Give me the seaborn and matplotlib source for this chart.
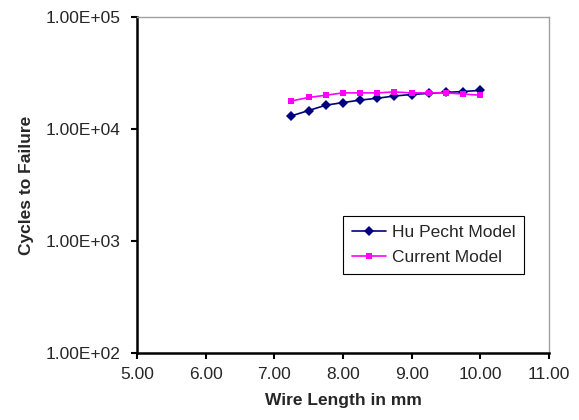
import numpy as np
import pandas as pd
import seaborn as sns
import matplotlib
matplotlib.use("Agg")
import matplotlib.pyplot as plt
from matplotlib.ticker import FuncFormatter, FixedLocator, NullLocator

# --------------------------- DATA ---------------------------
wire_length = [7.25, 7.50, 7.75, 8.00, 8.25, 8.50, 8.75, 9.00, 9.25, 9.50, 9.75, 10.00]
hu_pecht = [13100, 14600, 16300, 17200, 18100, 18800, 19700, 20300, 20800, 21200, 21600, 22100]
current = [17800, 19100, 20000, 21000, 21000, 21000, 21400, 21000, 21000, 21000, 20500, 20000]

series_names = ["Hu Pecht Model", "Current Model"]
x_ticks = [5, 6, 7, 8, 9, 10, 11]
y_ticks = [1e2, 1e3, 1e4, 1e5]

df = pd.DataFrame({
    "Wire Length": wire_length * 2,
    "Cycles": hu_pecht + current,
    "Model": [series_names[0]] * len(wire_length) + [series_names[1]] * len(wire_length),
})

# --------------------------- STYLE ---------------------------
sns.set_style("white")
plt.rcParams["font.family"] = ["Liberation Sans", "DejaVu Sans"]

fig = plt.figure(figsize=(5.79, 4.2), dpi=100)
ax = fig.add_axes([0.2366, 0.160, 0.7114, 0.7995])

palette = {series_names[0]: "#000080", series_names[1]: "#FF00FF"}
sns.lineplot(data=df, x="Wire Length", y="Cycles", hue="Model", style="Model",
             markers={series_names[0]: "D", series_names[1]: "s"}, dashes=False,
             palette=palette, markersize=5, linewidth=1.2, markeredgewidth=0,
             ax=ax)

ax.set_yscale("log")
ax.set_xlim(5, 11)
ax.set_ylim(1e2, 1e5)
ax.xaxis.set_major_locator(FixedLocator(x_ticks))
ax.yaxis.set_major_locator(FixedLocator(y_ticks))
ax.yaxis.set_minor_locator(NullLocator())
ax.xaxis.set_major_formatter(FuncFormatter(lambda v, p: f"{v:.2f}"))
ax.yaxis.set_major_formatter(FuncFormatter(lambda v, p: f"{v:.2E}"))

ax.tick_params(axis="both", which="major", direction="out", length=4, width=1.5,
               color="black", labelsize=12.5, left=True, bottom=True)
ax.tick_params(axis="y", pad=8)
ax.tick_params(axis="x", pad=6)

for side in ["left", "bottom"]:
    ax.spines[side].set_color("black")
    ax.spines[side].set_linewidth(1.8)
for side in ["top", "right"]:
    ax.spines[side].set_color("#a0a0a0")
    ax.spines[side].set_linewidth(1.0)

ax.set_xlabel("Wire Length in mm", fontsize=12.5, fontweight="bold", labelpad=8)
ax.set_ylabel("Cycles to Failure", fontsize=12.5, fontweight="bold", labelpad=8)

leg = ax.legend(loc="lower left", bbox_to_anchor=(0.5, 0.235), fontsize=12.5,
                frameon=True, fancybox=False, edgecolor="black", framealpha=1,
                handlelength=2.0, borderpad=0.5, labelspacing=0.6, handletextpad=0.3,
                borderaxespad=0)
leg.get_frame().set_linewidth(0.8)

fig.savefig("out.png", dpi=100)
